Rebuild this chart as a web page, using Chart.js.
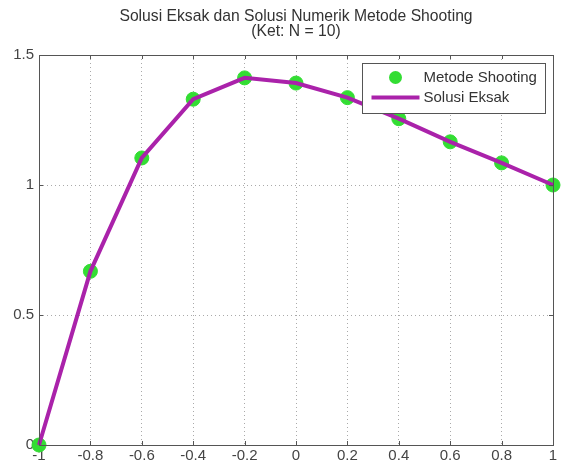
<!DOCTYPE html>
<html>
<head>
<meta charset="utf-8">
<script src="https://cdn.jsdelivr.net/npm/chart.js@4/dist/chart.umd.min.js"></script>
<style>
  html, body { margin: 0; padding: 0; background: #fff; }
  #wrap { width: 561px; height: 466px; position: relative; }
</style>
</head>
<body>
<div id="wrap"><canvas id="chart"></canvas></div>
<script>
// x = -1 : 0.2 : 1  (N = 10)
const xValues = [-1, -0.8, -0.6, -0.4, -0.2, 0, 0.2, 0.4, 0.6, 0.8, 1];
const shootingValues = [0, 0.668, 1.104, 1.330, 1.412, 1.392, 1.336, 1.255, 1.166, 1.085, 1.0];
const exactValues = [0, 0.668, 1.104, 1.330, 1.412, 1.392, 1.336, 1.255, 1.166, 1.085, 1.0];
const titleLines = ['Solusi Eksak dan Solusi Numerik Metode Shooting', '(Ket: N = 10)'];
const legendLabels = ['Metode Shooting', 'Solusi Eksak'];

const lineColor = '#aa22aa';
const markerColor = '#33dd33';
const fontFamily = '"Liberation Sans", Arial, sans-serif';

function toPoints(xs, ys) {
  return xs.map((x, i) => ({ x: x, y: ys[i] }));
}

function fmtTick(v) {
  return String(Number(v.toFixed(1)));
}

// box around the axes, inner tick marks, title over the axes and the legend, MATLAB style
const matlabFrame = {
  id: 'matlabFrame',
  afterDatasetsDraw(chart) {
    const ctx = chart.ctx;
    const a = chart.chartArea;
    const xs = chart.scales.x;
    const ys = chart.scales.y;
    ctx.save();
    ctx.strokeStyle = '#555';
    ctx.lineWidth = 1;
    ctx.beginPath();
    xs.ticks.forEach(t => {
      const px = Math.round(xs.getPixelForValue(t.value)) + 0.5;
      ctx.moveTo(px, a.bottom); ctx.lineTo(px, a.bottom - 4);
      ctx.moveTo(px, a.top); ctx.lineTo(px, a.top + 4);
    });
    ys.ticks.forEach(t => {
      const py = Math.round(ys.getPixelForValue(t.value)) + 0.5;
      ctx.moveTo(a.left, py); ctx.lineTo(a.left + 4, py);
      ctx.moveTo(a.right, py); ctx.lineTo(a.right - 4, py);
    });
    ctx.stroke();
    ctx.strokeRect(Math.round(a.left) + 0.5, Math.round(a.top) + 0.5,
      Math.round(a.right - a.left), Math.round(a.bottom - a.top));
    ctx.restore();
  },
  afterDraw(chart) {
    const ctx = chart.ctx;
    const a = chart.chartArea;

    // title, centred over the axes
    ctx.save();
    ctx.fillStyle = '#333';
    ctx.font = '15.7px ' + fontFamily;
    ctx.textAlign = 'center';
    ctx.textBaseline = 'middle';
    const cx = (a.left + a.right) / 2;
    ctx.fillText(titleLines[0], cx, 17);
    ctx.fillText(titleLines[1], cx, 32);
    ctx.restore();

    // legend
    const boxW = 183, boxH = 50;
    const bx = Math.round(a.right - boxW - 8) + 0.5;
    const by = Math.round(a.top + 8) + 0.5;
    ctx.save();
    ctx.fillStyle = '#fff';
    ctx.fillRect(bx, by, boxW, boxH);
    ctx.strokeStyle = '#555';
    ctx.lineWidth = 1;
    ctx.strokeRect(bx, by, boxW, boxH);

    const row1 = by + 14, row2 = by + 34;
    ctx.fillStyle = markerColor;
    ctx.beginPath();
    ctx.arc(bx + 33, row1, 6.5, 0, Math.PI * 2);
    ctx.fill();
    ctx.strokeStyle = lineColor;
    ctx.lineWidth = 4;
    ctx.beginPath();
    ctx.moveTo(bx + 9, row2);
    ctx.lineTo(bx + 57, row2);
    ctx.stroke();

    ctx.fillStyle = '#333';
    ctx.font = '15px ' + fontFamily;
    ctx.textBaseline = 'middle';
    ctx.textAlign = 'left';
    ctx.fillText(legendLabels[0], bx + 61, row1);
    ctx.fillText(legendLabels[1], bx + 61, row2);
    ctx.restore();
  }
};

const chart = new Chart(document.getElementById('chart'), {
  type: 'scatter',
  data: {
    datasets: [
      {
        label: legendLabels[1],
        type: 'line',
        data: toPoints(xValues, exactValues),
        borderColor: lineColor,
        borderWidth: 4,
        pointRadius: 0,
        fill: false,
        tension: 0,
        order: 0
      },
      {
        label: legendLabels[0],
        data: toPoints(xValues, shootingValues),
        backgroundColor: markerColor,
        borderColor: markerColor,
        pointRadius: 7,
        showLine: false,
        order: 1
      }
    ]
  },
  options: {
    responsive: true,
    maintainAspectRatio: false,
    animation: false,
    clip: false,
    layout: { padding: { left: 0, right: 2, top: 55, bottom: 0 } },
    plugins: {
      legend: { display: false },
      tooltip: { enabled: false },
      title: { display: false }
    },
    scales: {
      x: {
        type: 'linear',
        min: -1,
        max: 1,
        ticks: {
          stepSize: 0.2,
          color: '#444',
          font: { family: fontFamily, size: 15 },
          padding: 2,
          maxRotation: 0,
          callback: v => fmtTick(v)
        },
        grid: { color: '#aaa', drawTicks: false },
        border: { display: false, dash: [1, 3] },
        afterFit(scale) { scale.height = 21; }
      },
      y: {
        min: 0,
        max: 1.5,
        ticks: {
          stepSize: 0.5,
          color: '#444',
          font: { family: fontFamily, size: 15 },
          padding: 5,
          callback: v => fmtTick(v)
        },
        grid: { color: '#aaa', drawTicks: false },
        border: { display: false, dash: [1, 3] },
        afterFit(scale) { scale.width = 39; }
      }
    }
  },
  plugins: [matlabFrame]
});
</script>
</body>
</html>
